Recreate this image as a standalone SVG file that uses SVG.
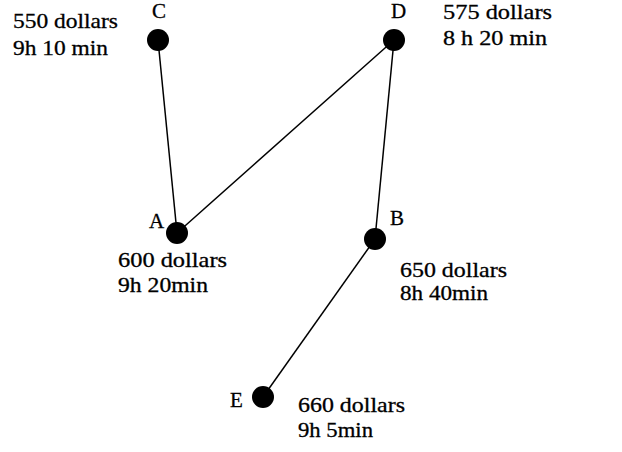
<svg xmlns="http://www.w3.org/2000/svg" width="622" height="452" viewBox="0 0 622 452">
<style>
text{font-family:'Liberation Serif','Times New Roman',Times,serif;font-size:21px;fill:#000;stroke:#000;stroke-width:0.3}
.n{fill:#000}
.e{stroke:#000;stroke-width:1.5;fill:none}
</style>
<rect width="622" height="452" fill="#fff"/>
<g id="connectors">
<line class="e" x1="158" y1="40" x2="177" y2="233"/>
<line class="e" x1="177" y1="233" x2="394" y2="40"/>
<line class="e" x1="394" y1="40" x2="375" y2="239"/>
<line class="e" x1="375" y1="239" x2="263" y2="397"/>
</g>
<g id="C">
<circle class="n" cx="158" cy="40" r="11"/>
<text x="152" y="18">C</text>
<text x="13" y="28" textLength="105" lengthAdjust="spacingAndGlyphs">550 dollars</text>
<text x="13" y="55" textLength="95" lengthAdjust="spacingAndGlyphs">9h 10 min</text>
</g>
<g id="D">
<circle class="n" cx="394" cy="40" r="11"/>
<text x="391" y="18">D</text>
<text x="443" y="19" textLength="109" lengthAdjust="spacingAndGlyphs">575 dollars</text>
<text x="443" y="45" textLength="104" lengthAdjust="spacingAndGlyphs">8 h 20 min</text>
</g>
<g id="A">
<circle class="n" cx="177" cy="233" r="11"/>
<text x="149" y="228">A</text>
<text x="118" y="267" textLength="109" lengthAdjust="spacingAndGlyphs">600 dollars</text>
<text x="118" y="292" textLength="90" lengthAdjust="spacingAndGlyphs">9h 20min</text>
</g>
<g id="B">
<circle class="n" cx="375" cy="239" r="11"/>
<text x="390" y="225">B</text>
<text x="400" y="277" textLength="107" lengthAdjust="spacingAndGlyphs">650 dollars</text>
<text x="400" y="300" textLength="88" lengthAdjust="spacingAndGlyphs">8h 40min</text>
</g>
<g id="E">
<circle class="n" cx="263" cy="397" r="11"/>
<text x="230" y="407">E</text>
<text x="298" y="412" textLength="107" lengthAdjust="spacingAndGlyphs">660 dollars</text>
<text x="298" y="437" textLength="75" lengthAdjust="spacingAndGlyphs">9h 5min</text>
</g>
</svg>
